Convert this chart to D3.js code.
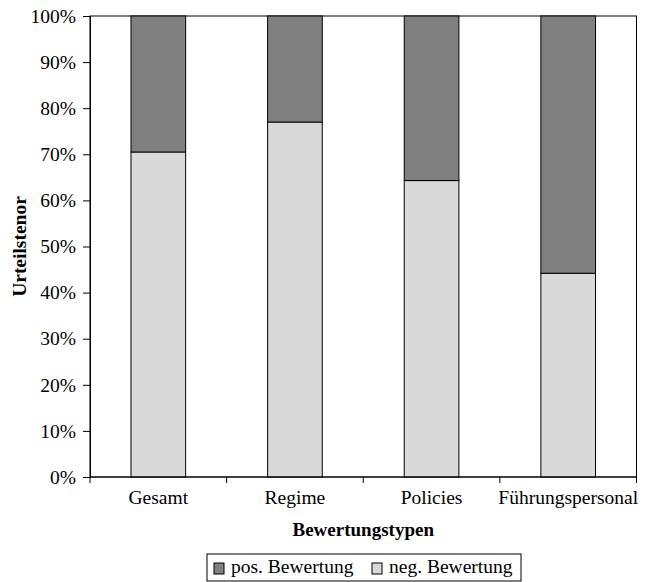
<!DOCTYPE html>
<html>
<head>
<meta charset="utf-8">
<script src="https://cdn.jsdelivr.net/npm/d3@7/dist/d3.min.js"></script>
<style>
  body { margin: 0; background: #fff; }
  svg { display: block; font-family: "Liberation Serif", "Times New Roman", serif; }
</style>
</head>
<body>
<svg id="chart" width="647" height="582"></svg>
<script>
const categories = ["Gesamt", "Regime", "Policies", "Führungspersonal"];
const negValues = [70.5, 77.0, 64.3, 44.2];
const posValues = negValues.map(v => 100 - v);
const seriesNames = ["pos. Bewertung", "neg. Bewertung"];
const yTicks = [0, 10, 20, 30, 40, 50, 60, 70, 80, 90, 100];
const colors = { pos: "#808080", neg: "#d9d9d9" };

const svg = d3.select("#chart");
const margin = { left: 90, top: 16, right: 10.5, bottom: 105 };
const W = 647, H = 582;
const plotW = W - margin.left - margin.right;
const plotH = H - margin.top - margin.bottom;

const x = d3.scaleBand().domain(categories).range([0, plotW]).paddingInner(0.6).paddingOuter(0.3);
const xTickScale = d3.scaleLinear().domain([0, categories.length]).range([0, plotW]);
const y = d3.scaleLinear().domain([0, 100]).range([plotH, 0]);

const g = svg.append("g").attr("transform", `translate(${margin.left},${margin.top})`);

// plot border
g.append("rect").attr("x", 0).attr("y", 0).attr("width", plotW).attr("height", plotH)
  .attr("fill", "none").attr("stroke", "#000").attr("stroke-width", 1);

// bars
const data = categories.map((c, i) => ({ c, neg: negValues[i], pos: posValues[i] }));
const bars = g.append("g");
bars.selectAll("rect.neg").data(data).join("rect").attr("class", "neg")
  .attr("x", d => x(d.c)).attr("width", x.bandwidth())
  .attr("y", d => y(d.neg)).attr("height", d => y(0) - y(d.neg))
  .attr("fill", colors.neg).attr("stroke", "#000").attr("stroke-width", 1);
bars.selectAll("rect.pos").data(data).join("rect").attr("class", "pos")
  .attr("x", d => x(d.c)).attr("width", x.bandwidth())
  .attr("y", d => y(100)).attr("height", d => y(d.neg) - y(100))
  .attr("fill", colors.pos).attr("stroke", "#000").attr("stroke-width", 1);

// y axis
const yAxis = g.append("g").call(d3.axisLeft(y).tickValues(yTicks).tickFormat(d => d + "%").tickSize(7).tickPadding(7));
yAxis.select(".domain").attr("stroke", "#000");
yAxis.selectAll("text").attr("font-size", "19.5px").attr("fill", "#000").attr("font-family", "Liberation Serif");

// x axis line + ticks between categories
const xAxisG = g.append("g").attr("transform", `translate(0,${plotH})`);
xAxisG.append("line").attr("x1", 0).attr("x2", plotW).attr("stroke", "#000");
xAxisG.selectAll("line.tk").data(d3.range(categories.length + 1)).join("line").attr("class", "tk")
  .attr("x1", d => xTickScale(d)).attr("x2", d => xTickScale(d)).attr("y1", 0).attr("y2", 6).attr("stroke", "#000");
xAxisG.selectAll("text").data(categories).join("text")
  .attr("x", d => x(d) + x.bandwidth() / 2).attr("y", 27)
  .attr("text-anchor", "middle").attr("font-size", "19.5px").text(d => d);

// axis titles
svg.append("text").attr("x", margin.left + plotW / 2).attr("y", 536)
  .attr("text-anchor", "middle").attr("font-size", "19px").attr("font-weight", "bold").text("Bewertungstypen");
svg.append("text").attr("transform", `translate(26,${margin.top + plotH / 2}) rotate(-90)`)
  .attr("text-anchor", "middle").attr("font-size", "19.5px").attr("font-weight", "bold").text("Urteilstenor");

// legend
const lg = svg.append("g").attr("transform", "translate(207,554)");
lg.append("rect").attr("x", 0).attr("y", 0).attr("width", 314).attr("height", 27)
  .attr("fill", "#fff").attr("stroke", "#000");
const items = [{ n: seriesNames[0], c: colors.pos, x: 7 }, { n: seriesNames[1], c: colors.neg, x: 165 }];
items.forEach(it => {
  lg.append("rect").attr("x", it.x).attr("y", 9).attr("width", 10).attr("height", 11)
    .attr("fill", it.c).attr("stroke", "#000");
  lg.append("text").attr("x", it.x + 17).attr("y", 19).attr("font-size", "19.5px").text(it.n);
});
</script>
</body>
</html>
